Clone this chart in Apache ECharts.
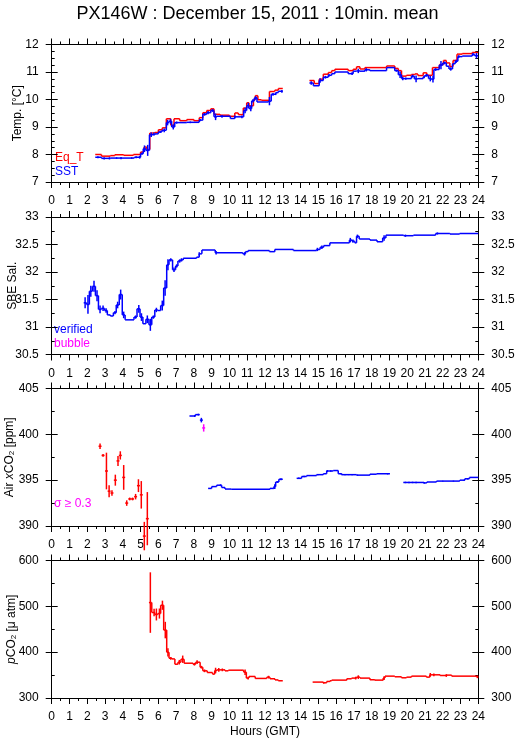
<!DOCTYPE html>
<html><head><meta charset="utf-8">
<script src="https://cdn.jsdelivr.net/npm/echarts@6/dist/echarts.min.js"></script>
<style>html,body{margin:0;padding:0;background:#fff}#c{width:515px;height:739px}</style>
</head><body><div id="c"></div>
<script>
const chartTitle = 'PX146W : December 15, 2011 : 10min. mean';
const hourRange = [0, 24, 1];
const tempRange = [7, 12, 1];
const salRange = [30.5, 33, 0.5];
const xco2Range = [390, 405, 5];
const pco2Range = [300, 600, 100];

// Panel 1: temperature steps [startHour, endHour, value]
const eqT = [
 [2.45,2.8,8.0],[2.8,3.3,7.94],[3.3,3.55,7.96],[3.55,4.05,7.99],[4.05,4.6,7.97],[4.6,5.0,8.0],[5.0,5.2,8.09],[5.2,5.35,8.27],[5.35,5.52,8.18],[5.52,5.8,8.78],[5.8,6.0,8.8],[6.0,6.22,8.9],[6.22,6.45,8.97],[6.45,6.7,9.3],[6.7,6.88,9.06],[6.88,7.2,9.3],[7.2,7.6,9.23],[7.6,8.0,9.27],[8.0,8.3,9.23],[8.3,8.5,9.34],[8.5,8.72,9.52],[8.72,8.95,9.6],[8.95,9.13,9.66],[9.13,9.47,9.46],[9.47,10.0,9.43],[10.0,10.3,9.39],[10.3,10.5,9.51],[10.5,10.78,9.45],[10.78,10.97,9.69],[10.97,11.1,9.88],[11.1,11.35,9.77],[11.35,11.45,9.99],[11.45,11.6,10.14],[11.6,11.8,9.99],[11.8,12.25,9.97],[12.25,12.55,10.29],[12.55,12.75,10.34],[12.75,13.0,10.4],
 [14.5,14.77,10.69],[14.77,15.05,10.58],[15.05,15.28,10.74],[15.28,15.56,10.92],[15.56,15.75,10.98],[15.75,15.93,11.05],[15.93,16.68,11.1],[16.68,16.96,11.05],[16.96,17.15,11.1],[17.15,17.34,11.19],[17.34,17.62,11.11],[17.62,18.84,11.16],[18.84,19.3,11.22],[19.3,19.5,11.13],[19.5,19.68,11.05],[19.68,19.96,10.85],[19.96,20.24,10.88],[20.24,20.43,10.91],[20.43,20.6,10.93],[20.6,20.9,10.87],[20.9,21.1,10.97],[21.1,21.42,10.88],[21.42,21.82,11.16],[21.82,22.04,11.27],[22.04,22.2,11.42],[22.2,22.4,11.33],[22.4,22.58,11.2],[22.58,22.8,11.42],[22.8,23.1,11.65],[23.1,23.66,11.67],[23.66,24.0,11.71]
];
const sst = [
 [2.45,2.8,7.9],[2.8,3.3,7.86],[3.3,4.65,7.87],[4.65,5.0,7.9],[5.0,5.15,8.03],[5.15,5.3,8.21],[5.3,5.5,8.15],[5.5,5.8,8.72],[5.8,6.0,8.75],[6.0,6.2,8.82],[6.2,6.45,8.88],[6.45,6.6,9.16],[6.6,6.75,9.21],[6.75,6.92,9.0],[6.92,7.6,9.16],[7.6,8.3,9.17],[8.3,8.5,9.25],[8.5,8.72,9.46],[8.72,8.95,9.52],[8.95,9.13,9.6],[9.13,9.3,9.37],[9.3,10.05,9.39],[10.05,10.3,9.31],[10.3,10.8,9.37],[10.8,10.97,9.6],[10.97,11.1,9.78],[11.1,11.25,9.67],[11.25,11.4,9.95],[11.4,11.55,10.06],[11.55,12.2,9.91],[12.2,12.35,9.94],[12.35,12.6,10.19],[12.6,12.75,10.25],[12.75,13.0,10.3],
 [14.5,14.72,10.6],[14.72,15.05,10.5],[15.05,15.28,10.69],[15.28,15.56,10.81],[15.56,15.75,10.88],[15.75,15.93,10.94],[15.93,16.68,11.0],[16.68,16.96,10.94],[16.96,17.15,11.03],[17.15,17.34,11.04],[17.34,17.62,11.03],[17.62,17.9,11.08],[17.9,18.84,11.05],[18.84,19.3,11.16],[19.3,19.5,11.05],[19.5,19.68,10.9],[19.68,20.24,10.76],[20.24,20.4,10.85],[20.4,20.6,10.75],[20.6,20.9,10.76],[20.9,21.0,10.82],[21.0,21.2,10.88],[21.2,21.35,10.76],[21.35,21.5,10.74],[21.5,21.8,11.09],[21.8,22.0,11.25],[22.0,22.2,11.33],[22.2,22.35,11.21],[22.35,22.55,11.11],[22.55,22.7,11.3],[22.7,22.85,11.39],[22.85,23.1,11.56],[23.1,23.66,11.58],[23.66,23.8,11.64],[23.8,24.0,11.59]
];
// error bars [hour, value, halfRange]
const sstErr = [
 [2.6,7.9,0.04],[2.95,7.86,0.04],[3.25,7.86,0.04],[3.65,7.87,0.03],[3.9,7.87,0.04],[4.5,7.87,0.03],[4.75,7.9,0.04],[4.95,7.9,0.05],[5.08,8.03,0.04],[5.22,8.21,0.12],[5.4,8.15,0.2],[5.6,8.72,0.08],[5.75,8.75,0.05],[6.1,8.82,0.04],[6.33,8.88,0.07],[6.52,9.16,0.1],[6.68,9.21,0.09],[6.84,9.0,0.09],[7.03,9.16,0.04],[7.8,9.17,0.03],[8.35,9.25,0.04],[8.6,9.46,0.05],[8.8,9.52,0.06],[9.05,9.6,0.05],[9.22,9.37,0.12],[9.58,9.39,0.05],[10.3,9.37,0.05],[10.7,9.37,0.05],[10.88,9.6,0.1],[11.06,9.78,0.1],[11.2,9.67,0.1],[11.32,9.95,0.06],[11.48,10.06,0.06],[12.25,9.94,0.15],[12.45,10.19,0.05],[12.6,10.2,0.04],[12.95,10.3,0.05],
 [14.6,10.6,0.06],[15.1,10.69,0.08],[15.4,10.81,0.05],[15.6,10.88,0.05],[16.9,10.94,0.05],[17.25,11.04,0.08],[17.7,11.08,0.06],[19.4,11.05,0.04],[19.6,10.9,0.12],[19.75,10.76,0.06],[19.92,10.76,0.04],[20.3,10.85,0.05],[20.5,10.75,0.12],[20.95,10.82,0.05],[21.1,10.88,0.05],[21.3,10.76,0.1],[21.45,10.74,0.12],[21.6,11.09,0.05],[21.9,11.25,0.15],[22.1,11.33,0.05],[22.45,11.11,0.06],[22.75,11.39,0.06],[22.9,11.56,0.05],[23.7,11.64,0.05],[23.9,11.59,0.1]
];

// Panel 2: salinity
const sal = [
 [1.8,1.96,31.44],[1.96,2.12,31.41],[2.12,2.29,31.65],[2.29,2.46,31.74],[2.46,2.63,31.57],[2.63,2.8,31.32],[2.8,2.97,31.34],[2.97,3.13,31.3],[3.13,3.3,31.22],[3.3,3.47,31.2],[3.47,3.63,31.26],[3.63,3.8,31.4],[3.8,3.97,31.59],[3.97,4.13,31.22],[4.13,4.63,31.13],[4.63,4.8,31.18],[4.8,4.97,31.33],[4.97,5.13,31.18],[5.13,5.3,31.06],[5.3,5.47,31.14],[5.47,5.63,31.04],[5.63,5.8,31.18],[5.8,5.97,31.31],[5.97,6.13,31.3],[6.13,6.3,31.39],[6.3,6.47,31.71],[6.47,6.6,32.13],[6.6,6.8,32.22],[6.8,6.97,32.04],[6.97,7.1,32.11],[7.1,7.25,32.2],[7.25,7.4,32.22],[7.4,8.15,32.25],[8.15,8.3,32.27],[8.3,8.45,32.33],[8.45,9.2,32.4],[9.2,10.75,32.35],[10.75,10.9,32.33],[10.9,11.05,32.37],[11.05,12.25,32.39],[12.25,12.55,32.37],[12.55,13.6,32.41],[13.6,14.9,32.39],[14.9,15.1,32.41],[15.1,15.3,32.45],[15.3,15.65,32.48],[15.65,16.75,32.53],[16.75,16.9,32.58],[16.9,17.05,32.56],[17.05,17.15,32.53],[17.15,17.3,32.65],[17.3,17.9,32.6],[17.9,18.3,32.58],[18.3,18.62,32.55],[18.62,18.8,32.62],[18.8,19.8,32.67],[19.8,20.35,32.66],[20.35,21.6,32.67],[21.6,22.4,32.7],[22.4,22.95,32.69],[22.95,24.0,32.7]
];
const salErr = [
 [1.88,31.44,0.1],[2.04,31.41,0.17],[2.2,31.65,0.1],[2.38,31.74,0.1],[2.55,31.57,0.1],[2.72,31.32,0.07],[2.89,31.34,0.05],[3.06,31.3,0.04],[3.56,31.26,0.03],[3.71,31.4,0.06],[3.88,31.59,0.09],[4.05,31.22,0.06],[4.72,31.18,0.03],[4.9,31.33,0.07],[5.05,31.18,0.07],[5.38,31.14,0.07],[5.55,31.04,0.11],[5.72,31.18,0.03],[5.89,31.31,0.04],[6.22,31.39,0.09],[6.38,31.71,0.14],[6.54,32.13,0.1],[6.7,32.22,0.03],[6.88,32.04,0.04],[7.03,32.11,0.03],[7.2,32.2,0.03],[7.3,32.22,0.03],[8.3,32.33,0.03],[9.25,32.35,0.03],[10.85,32.33,0.03],[14.95,32.41,0.03],[15.2,32.45,0.03],[16.8,32.58,0.04],[16.95,32.56,0.03],[17.2,32.65,0.03],[18.7,32.62,0.05],[19.9,32.66,0.02],[21.7,32.7,0.02]
];

// Panel 3: Air xCO2
const xco2Flagged = [ // [hour, value, halfRange]
 [2.72,398.7,0.3],[2.89,397.7,0.15],[3.08,396.0,2.0],[3.23,393.8,0.65],[3.39,393.6,0.3],[3.58,395.0,0.6],[3.73,397.1,0.55],[3.86,397.7,0.45],[4.05,395.3,1.35],[4.22,392.5,0.3],[4.39,392.95,0.15],[4.55,392.95,0.15],[4.72,393.2,0.3],[4.88,394.4,0.7],[5.04,393.4,1.5],[5.21,388.9,1.55],[5.38,390.8,2.9]
];
const xco2 = [
 [7.75,8.08,402.0],[8.08,8.33,402.15],
 [8.8,9.0,394.1],[9.0,9.28,394.3],[9.28,9.56,394.45],[9.56,9.75,394.2],[9.75,10.1,394.03],[10.1,12.28,394.0],[12.28,12.5,394.1],[12.5,12.6,394.3],[12.6,12.78,394.8],[12.78,13.0,395.1],
 [13.78,14.06,395.2],[14.06,14.34,395.4],[14.34,14.9,395.5],[14.9,15.28,395.6],[15.28,15.47,395.7],[15.47,15.84,396.0],[15.84,16.12,396.05],[16.12,16.3,395.7],[16.3,17.15,395.6],[17.15,17.9,395.55],[17.9,18.28,395.65],[18.28,19.03,395.7],
 [19.78,20.95,394.75],[20.95,21.1,394.7],[21.1,21.65,394.8],[21.65,22.96,394.9],[22.96,23.24,395.0],[23.24,23.5,395.15],[23.5,24.0,395.3]
];
const xco2Pts = [[8.42,401.55,0.25]];
const xco2Bubble = [[8.55,400.7,0.4]];
const xco2Err = [
 [8.05,402.0,0.1],[8.25,402.15,0.1],[9.1,394.3,0.05],[9.5,394.45,0.1],[12.55,394.3,0.25],[12.7,394.8,0.1],[12.9,395.1,0.1],[13.9,395.2,0.08],[14.2,395.4,0.08],[14.5,395.5,0.05],[15.0,395.6,0.05],[15.5,396.0,0.1],[15.7,396.0,0.08],[16.0,396.05,0.05],[16.3,395.7,0.05],[16.5,395.6,0.05],[16.7,395.6,0.05],[16.9,395.6,0.05],[17.2,395.55,0.05],[18.9,395.7,0.08],[19.9,394.75,0.08],[20.1,394.75,0.08],[20.3,394.75,0.08],[20.5,394.75,0.08],[20.95,394.7,0.1],[22.0,394.9,0.05],[22.6,394.9,0.05],[23.2,395.0,0.05],[23.4,395.15,0.08]
];

// Panel 4: pCO2
const pco2 = [
 [5.47,5.63,508.2],[5.63,5.8,486.5],[5.8,5.97,482.2],[5.97,6.13,484.3],[6.13,6.3,502.4],[6.3,6.47,448.2],[6.47,6.6,399.8],[6.6,6.76,386.7],[6.76,6.93,385.3],[6.93,7.1,373.7],[7.1,7.27,378.1],[7.27,7.45,384.6],[7.45,7.95,375.9],[7.95,8.1,373.7],[8.1,8.35,378.1],[8.35,8.5,367.2],[8.5,8.75,359.3],[8.75,9.05,355.6],[9.05,9.17,352.0],[9.17,9.3,360.0],[9.3,9.75,361.4],[9.75,9.94,359.3],[9.94,10.8,360.7],[10.8,10.95,356.4],[10.95,11.1,343.4],[11.1,11.45,347.0],[11.45,12.1,342.7],[12.1,12.28,345.5],[12.28,12.56,342.0],[12.56,12.75,339.5],[12.75,13.0,337.6],
 [14.68,15.28,334.7],[15.28,15.47,333.2],[15.47,15.66,336.1],[15.66,15.75,337.6],[15.75,16.6,339.0],[16.6,16.87,341.9],[16.87,17.15,343.4],[17.15,17.34,345.5],[17.34,17.9,343.4],[17.9,18.18,339.8],[18.18,18.65,339.0],[18.65,18.75,343.4],[18.75,19.3,347.7],[19.3,19.68,346.3],[19.68,19.96,344.1],[19.96,20.24,345.5],[20.24,21.08,347.7],[21.08,21.27,345.5],[21.27,21.85,350.6],[21.85,22.23,349.1],[22.23,22.5,349.9],[22.5,23.9,347.7],[23.9,24.0,346.3]
];
const pco2Err = [
 [5.55,508.2,66],[5.76,486.5,8],[5.89,482.2,13],[6.06,484.3,11],[6.23,502.4,10],[6.39,448.2,18],[6.54,399.8,9],[6.7,386.7,3],[7.18,378.1,5],[7.37,384.6,8],[8.03,373.7,3],[8.18,378.1,4],[8.42,367.2,3],[8.6,359.3,3],[9.22,360.0,6],[9.4,361.4,4],[9.6,361.4,3],[10.88,356.4,6],[11.05,343.4,3],[12.2,345.5,3],[15.3,333.2,2],[17.1,343.4,3],[17.25,345.5,4],[18.7,343.4,4],[21.3,350.6,4],[21.5,350.6,3],[22.2,349.1,3],[23.95,346.3,3]
];

const RED = '#ff0000', BLUE = '#0000ff', MAG = '#ff00ff';
const FONT = 'Liberation Sans';
const LW = 1.5;
const grids = [44.5, 217, 388.5, 560.5].map(t => ({left: 51.7, width: 426.6, top: t, height: 137.5, outerBoundsMode: 'none', containLabel: false}));

const xAxes = [], yAxes = [];
const panels = [
 {range: tempRange, minor: 4, name: 'Temp. [°C]', gap: 28},
 {range: salRange, minor: 2, name: 'SBE Sal.', gap: 33},
 {range: xco2Range, minor: 2, name: '{n|Air }{i|x}{n|CO}{s|2}{n| [ppm]}', gap: 36},
 {range: pco2Range, minor: 2, name: '{i|p}{n|CO}{s|2}{n| [μ atm]}', gap: 34}
];
const black = {color: '#000', width: 1};
panels.forEach((p, g) => {
  ['bottom', 'top'].forEach(pos => {
    xAxes.push({
      gridIndex: g, type: 'value', position: pos, min: hourRange[0], max: hourRange[1], interval: hourRange[2],
      axisLine: {show: true, onZero: false, lineStyle: black},
      axisTick: {show: true, length: 6, lineStyle: black},
      minorTick: {show: true, splitNumber: 2, length: 3, lineStyle: black},
      splitLine: {show: false},
      axisLabel: {show: pos === 'bottom', color: '#000', fontSize: 12, fontFamily: FONT, margin: 13},
      name: (pos === 'bottom' && g === 3) ? 'Hours (GMT)' : '',
      nameLocation: 'middle', nameGap: 28, nameMoveOverlap: false,
      nameTextStyle: {color: '#000', fontSize: 12, fontFamily: FONT}
    });
  });
  ['left', 'right'].forEach(pos => {
    yAxes.push({
      gridIndex: g, type: 'value', position: pos, min: p.range[0], max: p.range[1], interval: p.range[2],
      axisLine: {show: true, onZero: false, lineStyle: black},
      axisTick: {show: true, length: 6, lineStyle: black},
      splitLine: {show: false},
      axisLabel: {show: true, color: '#000', fontSize: 12, fontFamily: FONT, margin: 13},
      name: pos === 'left' ? p.name : '',
      nameLocation: 'middle', nameGap: p.gap, nameRotate: 90, nameMoveOverlap: false,
      nameTextStyle: {color: '#000', fontSize: 12, fontFamily: FONT,
        rich: {n: {fontSize: 12, fontFamily: FONT, color: '#000'},
               i: {fontSize: 12, fontFamily: FONT, fontStyle: 'italic', color: '#000'},
               s: {fontSize: 8, fontFamily: FONT, color: '#000', verticalAlign: 'bottom', padding: [5, 0, 0, 0]}}}
    });
    yAxes.push({
      gridIndex: g, type: 'value', position: pos, min: p.range[0], max: p.range[1], interval: p.range[2],
      axisLine: {show: false, onZero: false},
      axisTick: {show: true, inside: true, length: 6, lineStyle: black},
      minorTick: {show: true, splitNumber: p.minor, length: 3, lineStyle: black},
      splitLine: {show: false},
      axisLabel: {show: false}
    });
  });
});

function lineEl(a, b, color) {
  return {type: 'line', shape: {x1: a[0], y1: a[1], x2: b[0], y2: b[1]}, style: {stroke: color, lineWidth: LW}};
}
function stepSeries(segs, color, g) {
  return {type: 'custom', xAxisIndex: 2 * g, yAxisIndex: 4 * g, data: segs, encode: {x: [0, 1], y: 2},
    clip: false, silent: true, animation: false,
    renderItem: (params, api) => {
      const s = segs[params.dataIndex];
      const a = api.coord([s[0], s[2]]), b = api.coord([s[1], s[2]]);
      const ch = [lineEl(a, b, color)];
      const pr = segs[params.dataIndex - 1];
      if (pr && Math.abs(pr[1] - s[0]) < 1e-6) ch.push(lineEl(api.coord([s[0], pr[2]]), a, color));
      return {type: 'group', children: ch};
    }};
}
function errSeries(pts, color, g) {
  return {type: 'custom', xAxisIndex: 2 * g, yAxisIndex: 4 * g, data: pts, encode: {x: 0, y: 1},
    clip: false, silent: true, animation: false,
    renderItem: (params, api) => {
      const p = pts[params.dataIndex];
      return lineEl(api.coord([p[0], p[1] - p[2]]), api.coord([p[0], p[1] + p[2]]), color);
    }};
}
function plusSeries(pts, color, g) {
  return {type: 'custom', xAxisIndex: 2 * g, yAxisIndex: 4 * g, data: pts, encode: {x: 0, y: 1},
    clip: false, silent: true, animation: false,
    renderItem: (params, api) => {
      const p = pts[params.dataIndex];
      const half = 5 / 60;
      return {type: 'group', children: [
        lineEl(api.coord([p[0] - half, p[1]]), api.coord([p[0] + half, p[1]]), color),
        lineEl(api.coord([p[0], p[1] - p[2]]), api.coord([p[0], p[1] + p[2]]), color)
      ]};
    }};
}

const chart = echarts.init(document.getElementById('c'), null, {renderer: 'canvas'});
chart.setOption({
  animation: false,
  backgroundColor: '#fff',
  textStyle: {fontFamily: FONT},
  title: {text: chartTitle, left: 'center', top: 0, textStyle: {fontSize: 18, fontWeight: 'normal', color: '#000', fontFamily: FONT}},
  grid: grids,
  xAxis: xAxes,
  yAxis: yAxes,
  graphic: [
    {type: 'text', left: 55, top: 152, style: {text: 'Eq_T', fill: RED, font: '12px "Liberation Sans"'}},
    {type: 'text', left: 55, top: 166, style: {text: 'SST', fill: BLUE, font: '12px "Liberation Sans"'}},
    {type: 'text', left: 54, top: 324, style: {text: 'verified', fill: BLUE, font: '12px "Liberation Sans"'}},
    {type: 'text', left: 54, top: 338, style: {text: 'bubble', fill: MAG, font: '12px "Liberation Sans"'}},
    {type: 'text', left: 54, top: 498, style: {text: 'σ ≥ 0.3', fill: MAG, font: '12px "Liberation Sans"'}}
  ],
  series: [
    stepSeries(eqT, RED, 0),
    stepSeries(sst, BLUE, 0),
    errSeries(sstErr, BLUE, 0),
    stepSeries(sal, BLUE, 1),
    errSeries(salErr, BLUE, 1),
    plusSeries(xco2Flagged, RED, 2),
    stepSeries(xco2, BLUE, 2),
    errSeries(xco2Err, BLUE, 2),
    plusSeries(xco2Pts, BLUE, 2),
    plusSeries(xco2Bubble, MAG, 2),
    stepSeries(pco2, RED, 3),
    errSeries(pco2Err, RED, 3)
  ]
});
</script></body></html>
